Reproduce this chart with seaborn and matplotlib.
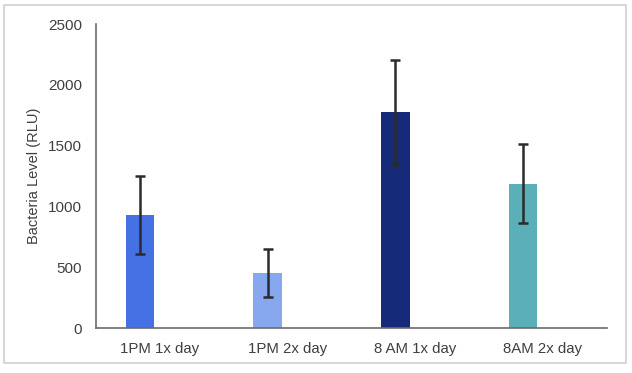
import matplotlib
matplotlib.use('Agg')
import matplotlib.pyplot as plt
import seaborn as sns
import pandas as pd
import numpy as np

groups = ['1PM 1x day', '1PM 2x day', '8 AM 1x day', '8AM 2x day']
means = [930, 453, 1775, 1188]
errors = [320, 195, 433, 328]
bar_colors = ['#4472E4', '#87A7EF', '#162A7A', '#5AAFB8']
yticks = [0, 500, 1000, 1500, 2000, 2500]

# excel-style layout: real series plus an empty second series (pushes bars left)
df = pd.DataFrame({
    'group': groups * 2,
    'level': means + [np.nan] * len(groups),
    'series': ['mean'] * len(groups) + ['empty'] * len(groups),
})

sns.set_theme(style="white")
plt.rcParams['font.family'] = ['Liberation Sans', 'DejaVu Sans']

fig = plt.figure(figsize=(6.32, 3.73), dpi=100)
ax = fig.add_axes([0.152, 0.1206, 0.808, 0.815])

sns.barplot(data=df, x='group', y='level', hue='series', hue_order=['mean', 'empty'],
            order=groups, width=0.625, gap=0.286, legend=False, ax=ax, errorbar=None)

bars = sorted([p for p in ax.patches if np.isfinite(p.get_height()) and p.get_height() > 0],
              key=lambda p: p.get_x())
for p, c in zip(bars, bar_colors):
    p.set_facecolor(c)
    p.set_edgecolor('none')

centers = [p.get_x() + p.get_width() / 2 for p in bars]
ax.errorbar(centers, means, yerr=errors, fmt='none', ecolor='#2b2b2b',
            elinewidth=1.8, capsize=3.5, capthick=1.8)

ax.set_ylim(0, 2500)
ax.set_yticks(yticks)
ax.set_xlim(-0.5, len(groups) - 0.5)
ax.set_xlabel('')
ax.set_ylabel('Bacteria Level (RLU)', fontsize=10.5, color='#404040', labelpad=5)
ax.tick_params(axis='y', length=0, labelsize=11, labelcolor='#404040', pad=10)
ax.tick_params(axis='x', length=0, labelsize=10.8, labelcolor='#404040', pad=10)

for side in ['top', 'right']:
    ax.spines[side].set_visible(False)
for side in ['left', 'bottom']:
    ax.spines[side].set_color('#6b6b6b')
    ax.spines[side].set_linewidth(1.2)

# light frame round the whole chart
fig.patches.append(plt.Rectangle((0.006, 0.027), 0.984, 0.96, transform=fig.transFigure,
                                 fill=False, edgecolor='#d0d0d0', linewidth=1.2))

plt.savefig('out.png', dpi=100)
